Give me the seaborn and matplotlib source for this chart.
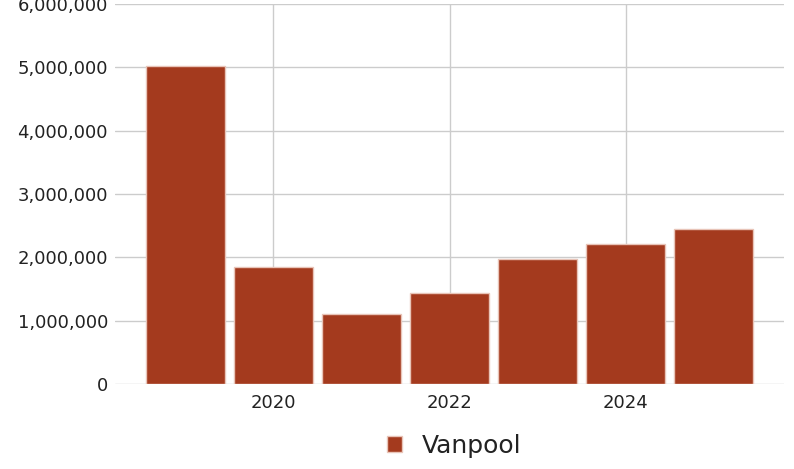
import matplotlib
matplotlib.use("Agg")
import matplotlib.pyplot as plt
import seaborn as sns
from matplotlib.ticker import FuncFormatter

# data
years = [2019, 2020, 2021, 2022, 2023, 2024, 2025]
vanpool = [5020000, 1850000, 1110000, 1440000, 1970000, 2210000, 2450000]

bar_color = "#a43a1e"

sns.set_style("white")
plt.rcParams['font.family'] = ['DejaVu Sans']

fig = plt.figure(figsize=(7.94, 4.69), dpi=100)
ax = fig.add_axes([115 / 794, 1 - 384 / 469, (784 - 115) / 794, 380 / 469])

sns.barplot(x=years, y=vanpool, native_scale=True, width=0.9, color=bar_color,
            saturation=1, edgecolor="#e8c4b8", linewidth=1, label="Vanpool", ax=ax)

ax.set_xlim(2018.2, 2025.8)
ax.set_ylim(0, 6000000)
ax.set_xticks([2020, 2022, 2024])
ax.set_xticklabels(["2020", "2022", "2024"])
ax.set_yticks(range(0, 6000001, 1000000))
ax.yaxis.set_major_formatter(FuncFormatter(lambda v, p: f"{int(v):,}"))
ax.grid(True, color="#cccccc", linewidth=1)
ax.set_axisbelow(True)
for s in ax.spines.values():
    s.set_visible(False)
ax.tick_params(axis="both", length=0, labelsize=13, labelcolor="#222222")
ax.tick_params(axis="y", pad=5)
ax.tick_params(axis="x", pad=7)
ax.set_xlabel("")
ax.set_ylabel("")

leg = ax.get_legend()
if leg is not None:
    leg.remove()
h, l = ax.get_legend_handles_labels()
fig.legend(h[:1], l[:1], loc="center", bbox_to_anchor=(454 / 794, 1 - 446 / 469),
           frameon=False, fontsize=18, handlelength=0.6, handleheight=0.6,
           handletextpad=0.8, labelcolor="#222222")

fig.savefig("out.png", dpi=100)
